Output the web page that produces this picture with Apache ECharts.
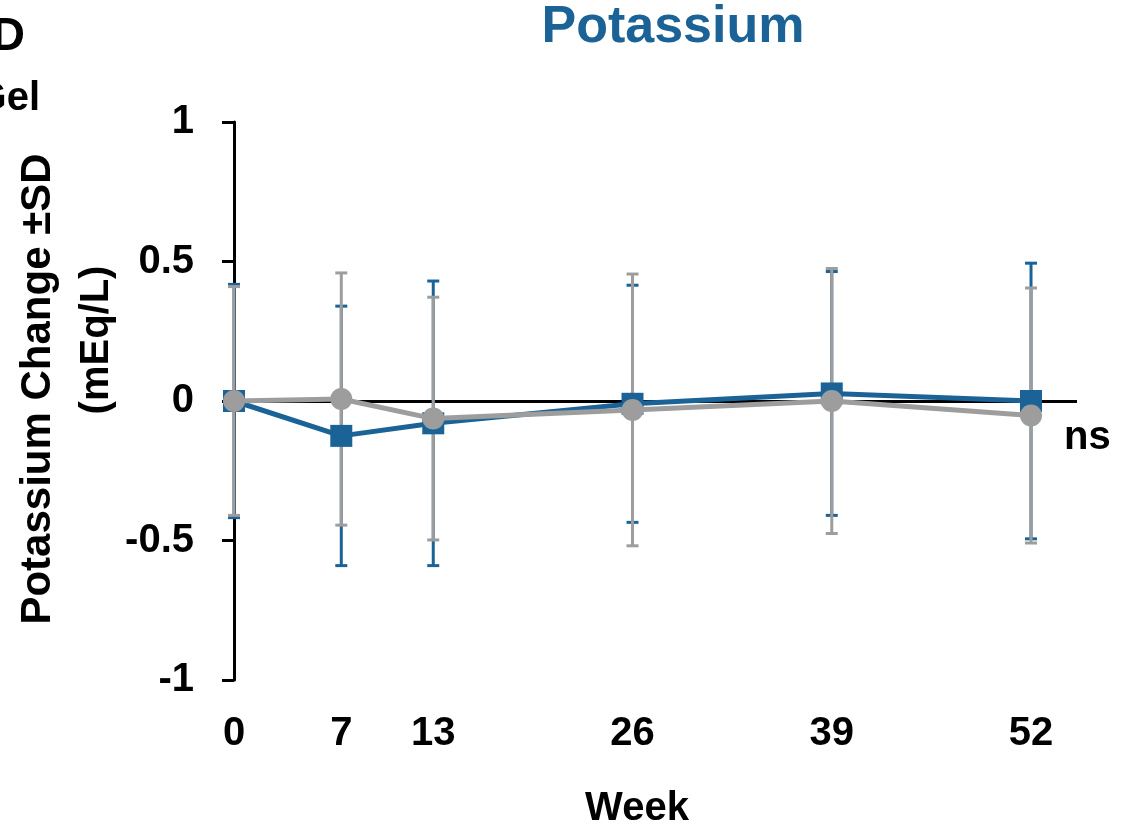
<!DOCTYPE html>
<html>
<head>
<meta charset="utf-8">
<title>Potassium</title>
<script src="https://cdn.jsdelivr.net/npm/echarts@6/dist/echarts.min.js"></script>
<style>
  html, body { margin: 0; padding: 0; background: #ffffff; }
  #chart { width: 1132px; height: 833px; }
</style>
</head>
<body>
<div id="chart"></div>
<script>
// Study weeks (x positions)
const weeks = [0, 7, 13, 26, 39, 52];
// Gel group: mean change and SD (mEq/L)
const gelMean = [0, -0.125, -0.08, -0.01, 0.027, 0];
const gelSD = [0.418, 0.465, 0.51, 0.425, 0.437, 0.494];
// Comparator group: mean change and SD (mEq/L)
const compMean = [0, 0.007, -0.063, -0.032, 0, -0.052];
const compSD = [0.41, 0.452, 0.435, 0.487, 0.475, 0.457];
// Axis tick labels
const xTicks = [0, 7, 13, 26, 39, 52];
const yTicks = [-1, -0.5, 0, 0.5, 1];

const BLUE = '#1B6397';
const GREY = '#9D9D9D';
const FONT = '"Liberation Sans", Arial, Helvetica, sans-serif';

function errorBars(color) {
  return function (params, api) {
    const x = api.value(0), m = api.value(1), sd = api.value(2);
    const top = api.coord([x, m + sd]);
    const bot = api.coord([x, m - sd]);
    const hw = 6;
    const style = { stroke: color, lineWidth: 3 };
    return {
      type: 'group',
      children: [
        { type: 'line', shape: { x1: top[0], y1: top[1], x2: bot[0], y2: bot[1] }, style },
        { type: 'line', shape: { x1: top[0] - hw, y1: top[1], x2: top[0] + hw, y2: top[1] }, style },
        { type: 'line', shape: { x1: bot[0] - hw, y1: bot[1], x2: bot[0] + hw, y2: bot[1] }, style }
      ]
    };
  };
}

const chart = echarts.init(document.getElementById('chart'), null, { renderer: 'canvas' });

chart.setOption({
  animation: false,
  backgroundColor: '#ffffff',
  grid: { left: 234, right: 55, top: 122, bottom: 153 },
  xAxis: {
    type: 'value',
    min: 0,
    max: 55,
    axisLine: { show: false },
    axisTick: { show: false },
    splitLine: { show: false },
    axisLabel: {
      customValues: xTicks,
      margin: 34,
      color: '#000',
      fontSize: 40,
      fontWeight: 'bold',
      fontFamily: FONT
    }
  },
  yAxis: {
    type: 'value',
    min: yTicks[0],
    max: yTicks[yTicks.length - 1],
    interval: 0.5,
    axisLine: { show: true, lineStyle: { color: '#000', width: 3 } },
    axisTick: { show: true, inside: false, length: 12, lineStyle: { color: '#000', width: 3 } },
    splitLine: { show: false },
    axisLabel: {
      margin: 40,
      color: '#000',
      fontSize: 40,
      fontWeight: 'bold',
      fontFamily: FONT
    }
  },
  series: [
    {
      name: 'Gel SD',
      type: 'custom',
      z: 2,
      renderItem: errorBars(BLUE),
      data: weeks.map((w, i) => [w, gelMean[i], gelSD[i]]),
      markLine: {
        silent: true,
        symbol: 'none',
        label: { show: false },
        lineStyle: { color: '#000', width: 3, type: 'solid' },
        z: 1,
        data: [[{ coord: [0, 0] }, { coord: [55, 0] }]]
      }
    },
    {
      name: 'Comparator SD',
      type: 'custom',
      z: 3,
      renderItem: errorBars(GREY),
      data: weeks.map((w, i) => [w, compMean[i], compSD[i]])
    },
    {
      name: 'Gel',
      type: 'line',
      z: 4,
      data: weeks.map((w, i) => [w, gelMean[i]]),
      symbol: 'rect',
      symbolSize: 22,
      lineStyle: { color: BLUE, width: 5 },
      itemStyle: { color: BLUE }
    },
    {
      name: 'Comparator',
      type: 'line',
      z: 5,
      data: weeks.map((w, i) => [w, compMean[i]]),
      symbol: 'circle',
      symbolSize: 22,
      lineStyle: { color: GREY, width: 5 },
      itemStyle: { color: GREY }
    }
  ],
  graphic: [
    {
      type: 'text', x: 673, y: 28,
      style: { text: 'Potassium', fill: BLUE, font: 'bold 52px ' + FONT, align: 'center', verticalAlign: 'middle' }
    },
    {
      type: 'text', x: 637, y: 809,
      style: { text: 'Week', fill: '#000', font: 'bold 40px ' + FONT, align: 'center', verticalAlign: 'middle' }
    },
    {
      type: 'text', x: 1064, y: 438,
      style: { text: 'ns', fill: '#000', font: 'bold 40px ' + FONT, align: 'left', verticalAlign: 'middle' }
    },
    {
      type: 'text', x: 38, y: 389, rotation: Math.PI / 2,
      style: { text: 'Potassium Change \u00B1SD', fill: '#000', font: 'bold 42px ' + FONT, align: 'center', verticalAlign: 'middle' }
    },
    {
      type: 'text', x: 97, y: 340, rotation: Math.PI / 2,
      style: { text: '(mEq/L)', fill: '#000', font: 'bold 40px ' + FONT, align: 'center', verticalAlign: 'middle' }
    },
    {
      type: 'text', x: 25, y: 37,
      style: { text: 'D', fill: '#000', font: 'bold 46px ' + FONT, align: 'right', verticalAlign: 'middle' }
    },
    {
      type: 'text', x: 40, y: 99,
      style: { text: 'Gel', fill: '#000', font: 'bold 40px ' + FONT, align: 'right', verticalAlign: 'middle' }
    }
  ]
});
</script>
</body>
</html>
